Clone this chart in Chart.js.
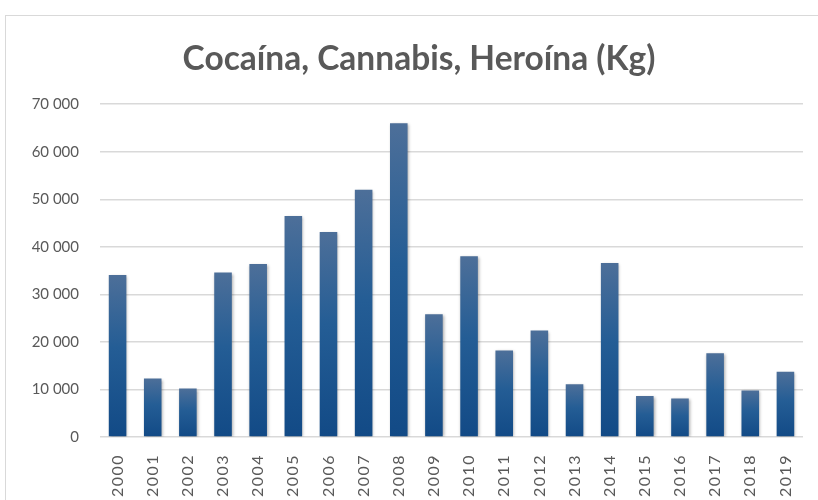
<!DOCTYPE html>
<html>
<head>
<meta charset="utf-8">
<title>Cocaína, Cannabis, Heroína (Kg)</title>
<script src="https://cdn.jsdelivr.net/npm/chart.js@4/dist/chart.umd.min.js"></script>
<style>
  html, body { margin: 0; padding: 0; background: #fff; overflow: hidden; }
  #frame { position: absolute; left: 5px; top: 15px; width: 900px; height: 600px; border: 1px solid #d9d9d9; box-sizing: border-box; }
  #wrap { position: absolute; left: 0; top: 0; width: 818px; height: 500px; }
</style>
</head>
<body>
<div id="frame"></div>
<div id="wrap"><canvas id="seizureChart" width="818" height="500"></canvas></div>
<script>
// data
const years = ['2000','2001','2002','2003','2004','2005','2006','2007','2008','2009',
               '2010','2011','2012','2013','2014','2015','2016','2017','2018','2019'];
const kilos = [34100, 12300, 10200, 34600, 36400, 46500, 43100, 52000, 66000, 25800,
               38000, 18200, 22400, 11100, 36600, 8600, 8100, 17600, 9800, 13700];
const yMax = 70000;
const yStep = 10000;

const txtColor = '#595959';
const gridColor = '#d9d9d9';

// "70 000" style thousands
function fmtThousands(v) {
  return String(v).replace(/\B(?=(\d{3})+(?!\d))/g, ' ');
}

// vertical gradient per bar, lighter at the top
function barFill(ctx) {
  const chart = ctx.chart;
  const y = chart.scales.y;
  if (!y || ctx.raw == null) return '#235d95';
  const top = y.getPixelForValue(ctx.raw);
  const base = y.getPixelForValue(0);
  if (!Number.isFinite(top) || !Number.isFinite(base) || top === base) return '#235d95';
  const g = chart.ctx.createLinearGradient(0, top, 0, base);
  g.addColorStop(0, '#4d6f99');
  g.addColorStop(0.45, '#245d95');
  g.addColorStop(1, '#124a86');
  return g;
}

// soft shadow under the bars
const barShadow = {
  id: 'barShadow',
  beforeDatasetsDraw(chart) {
    const c = chart.ctx;
    c.save();
    c.shadowColor = 'rgba(0,0,0,0.35)';
    c.shadowBlur = 3;
    c.shadowOffsetX = 1;
    c.shadowOffsetY = 1;
  },
  afterDatasetsDraw(chart) {
    chart.ctx.restore();
  }
};

// year labels spaced out a bit; value labels may run into the left padding
const axisTweaks = {
  id: 'axisTweaks',
  beforeDraw(chart) {
    const sx = chart.scales.x;
    const sy = chart.scales.y;
    if (sx && !sx._spaced) {
      const orig = sx.drawLabels;
      sx.drawLabels = function (area) {
        const c = this.ctx;
        c.save();
        c.letterSpacing = '1.5px';
        orig.call(this, area);
        c.restore();
      };
      sx._spaced = true;
    }
    if (sy) sy._computeLabelArea = () => undefined;
  }
};

const chart = new Chart(document.getElementById('seizureChart').getContext('2d'), {
  type: 'bar',
  data: {
    labels: years,
    datasets: [{
      label: 'Kg',
      data: kilos,
      backgroundColor: barFill,
      borderWidth: 0,
      barPercentage: 0.5,
      categoryPercentage: 1.0
    }]
  },
  plugins: [barShadow, axisTweaks],
  options: {
    responsive: false,
    animation: false,
    layout: { padding: { left: 35, right: 15, top: 0, bottom: 0 } },
    plugins: {
      legend: { display: false },
      tooltip: { enabled: false },
      title: {
        display: true,
        text: 'Cocaína, Cannabis, Heroína (Kg)',
        color: txtColor,
        font: { family: 'Lato', size: 33.5, weight: 'bold' },
        padding: { top: 39, bottom: 25 }
      }
    },
    scales: {
      x: {
        grid: { display: false },
        border: { display: false },
        ticks: {
          color: txtColor,
          font: { family: 'Lato', size: 16 },
          minRotation: 90,
          maxRotation: 90,
          autoSkip: false,
          padding: 9
        },
        afterFit(scale) { scale.height = 63; }
      },
      y: {
        min: 0,
        max: yMax,
        ticks: {
          stepSize: yStep,
          color: txtColor,
          font: { family: 'Lato', size: 15 },
          padding: 21,
          callback: v => fmtThousands(v)
        },
        grid: { color: gridColor, lineWidth: 1.5, drawTicks: false },
        border: { display: false },
        afterFit(scale) { scale.width = 65; }
      }
    }
  }
});
</script>
</body>
</html>
